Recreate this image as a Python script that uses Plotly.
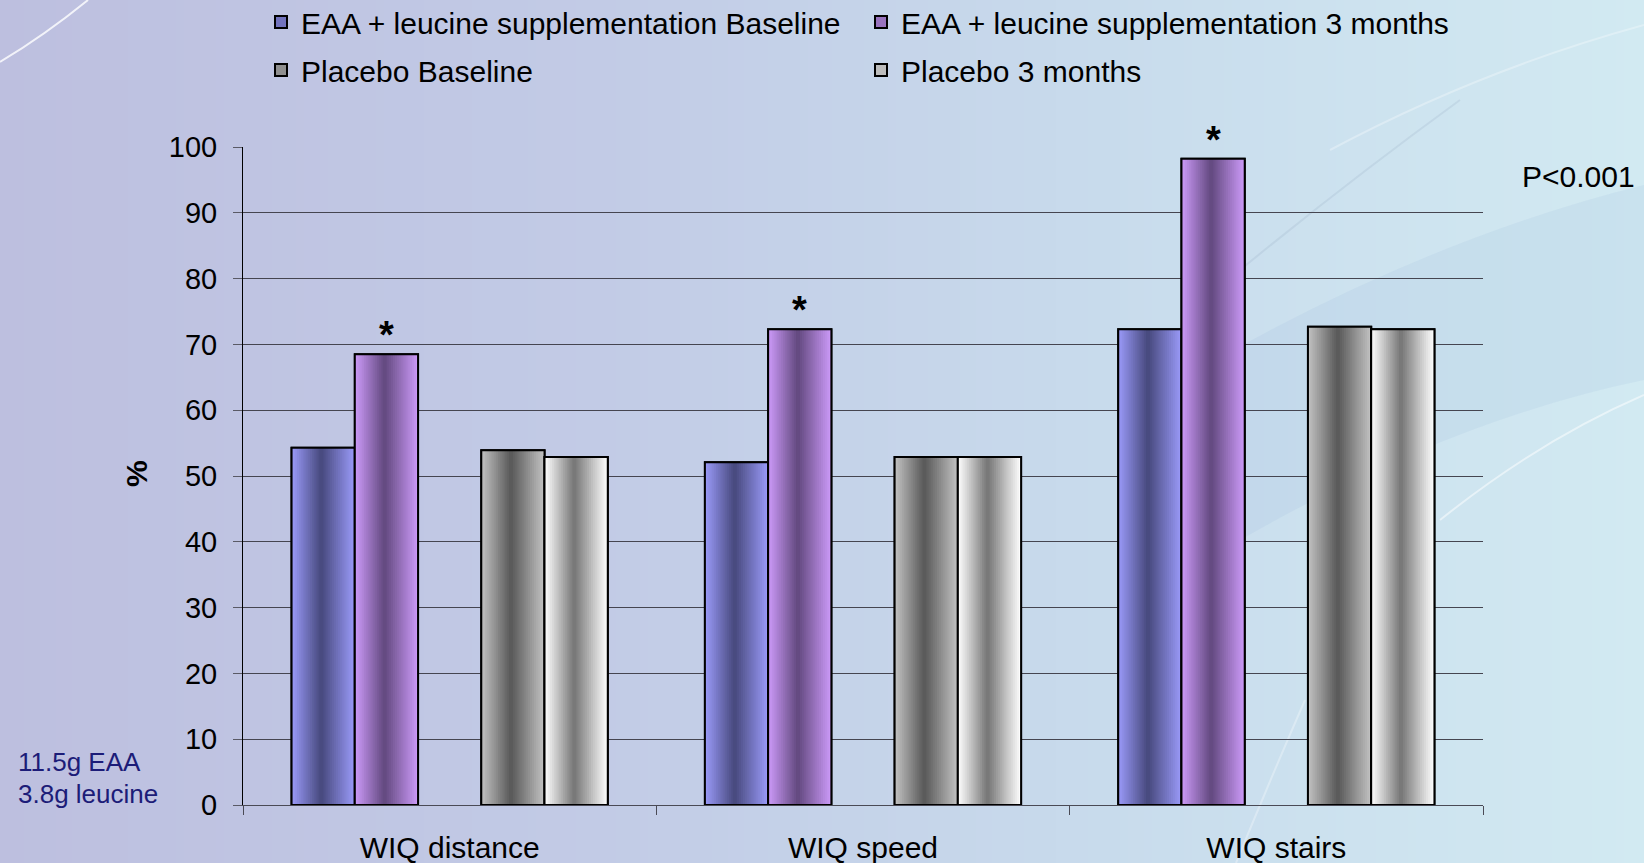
import plotly.graph_objects as go

# ---- data -------------------------------------------------------------
categories = ["WIQ distance", "WIQ speed", "WIQ stairs"]
eaa_baseline = [54.3, 52.1, 72.3]
eaa_3months = [68.5, 72.3, 98.2]
placebo_baseline = [53.9, 52.9, 72.7]
placebo_3months = [52.9, 52.9, 72.3]
series_names = [
    "EAA + leucine supplementation Baseline",
    "EAA + leucine supplementation 3 months",
    "Placebo Baseline",
    "Placebo 3 months",
]
y_tick_values = list(range(0, 101, 10))
significance_mark = "*"
p_value_text = "P<0.001"
dose_lines = ["11.5g EAA", "3.8g leucine"]
y_title = "%"

# ---- geometry / styling ------------------------------------------------
W, H = 1644, 863
ML, MR, MT, MB = 243, 161, 147, 58
PW, PH = W - ML - MR, H - MT - MB
FONT = "Liberation Sans, Arial, sans-serif"

SLOT = 0.153          # width of one bar slot in category units
CENTER = 0.47         # where the dark band of the cylinder shading sits
LAYERS = 16           # shading steps per bar


def px(x, y):
    """pixel position -> paper coordinates"""
    return (x - ML) / PW, (H - MB - y) / PH


def lerp(c1, c2, t):
    return tuple(round(a + (b - a) * t) for a, b in zip(c1, c2))


def rgb(c):
    return "rgb(%d,%d,%d)" % c


series = [
    # values, slot index, edge colour, centre colour, legend
    (eaa_baseline, 0, (152, 152, 246), (68, 70, 120), "legend"),
    (eaa_3months, 1, (202, 152, 246), (94, 70, 122), "legend"),
    (placebo_baseline, 3, (192, 192, 192), (84, 84, 84), "legend2"),
    (placebo_3months, 4, (252, 252, 252), (112, 112, 112), "legend2"),
]

fig = go.Figure()

for name, (vals, slot, edge, dark, lg) in zip(series_names, series):
    off = (slot - 2.5) * SLOT
    # legend-bearing base bar
    fig.add_bar(
        x=categories, y=vals, width=SLOT, offset=off, name=name, legend=lg,
        marker=dict(color=rgb(lerp(edge, dark, 0.45)),
                    line=dict(color="black", width=2)),
        hoverinfo="skip",
    )
    # horizontal cylinder shading built from nested bars
    for k in range(LAYERS):
        t = k / LAYERS
        fig.add_bar(
            x=categories, y=vals, width=SLOT * (1 - t), offset=off + t * CENTER * SLOT,
            marker=dict(color=rgb(lerp(edge, dark, t)), line=dict(width=0)),
            showlegend=False, hoverinfo="skip",
        )
    # outline on top
    fig.add_bar(
        x=categories, y=vals, width=SLOT, offset=off,
        marker=dict(color="rgba(0,0,0,0)", line=dict(color="black", width=2)),
        showlegend=False, hoverinfo="y",
    )

# ---- background: horizontal lavender -> light blue wash ---------------
stops = [(0, (189, 191, 223)), (600, (194, 203, 230)), (1100, (200, 219, 236)), (1644, (210, 234, 242))]


def bg_color(x):
    for (x0, c0), (x1, c1) in zip(stops, stops[1:]):
        if x0 <= x <= x1:
            return lerp(c0, c1, (x - x0) / (x1 - x0))
    return stops[-1][1]


shapes = []
step = 8
for x in range(0, W, step):
    x0, _ = px(x, 0)
    x1, _ = px(x + step + 1, 0)
    _, y0 = px(0, H + 2)
    _, y1 = px(0, -2)
    shapes.append(dict(type="rect", xref="paper", yref="paper", x0=x0, x1=x1, y0=y0, y1=y1,
                       fillcolor=rgb(bg_color(x + step / 2)), line=dict(width=0), layer="below"))


def qpath(p0, p1, p2):
    a, b, c = px(*p0), px(*p1), px(*p2)
    return "M %f,%f Q %f,%f %f,%f" % (a + b + c)


# decorative swooshes
shapes.append(dict(type="path", xref="paper", yref="paper", layer="below",
                   path=qpath((0, 62), (45, 35), (88, 0)),
                   line=dict(color="rgba(255,255,255,0.8)", width=2)))
shapes.append(dict(type="path", xref="paper", yref="paper", layer="below",
                   path=qpath((1330, 150), (1480, 70), (1644, 25)),
                   line=dict(color="rgba(255,255,255,0.3)", width=2)))
a0, a1, a2 = px(1180, 380), px(1420, 240), px(1644, 185)
b0, b1, b2 = px(1644, 380), px(1450, 420), px(1240, 540)
shapes.append(dict(type="path", xref="paper", yref="paper", layer="below",
                   path="M %f,%f Q %f,%f %f,%f L %f,%f Q %f,%f %f,%f Q %f,%f %f,%f Z"
                   % (a0 + a1 + a2 + b0 + b1 + b2 + px(1190, 470) + a0),
                   fillcolor="rgba(140,175,210,0.12)", line=dict(width=0)))
shapes.append(dict(type="path", xref="paper", yref="paper", layer="below",
                   path=qpath((1440, 520), (1540, 440), (1644, 395)),
                   line=dict(color="rgba(255,255,255,0.5)", width=2)))
shapes.append(dict(type="path", xref="paper", yref="paper", layer="below",
                   path=qpath((1460, 100), (1350, 180), (1240, 270)),
                   line=dict(color="rgba(120,140,170,0.14)", width=2)))
shapes.append(dict(type="path", xref="paper", yref="paper", layer="below",
                   path=qpath((1305, 700), (1270, 780), (1236, 863)),
                   line=dict(color="rgba(255,255,255,0.3)", width=2)))

# ---- annotations -----------------------------------------------------
ann = []
for i, v in enumerate(eaa_3months):
    ann.append(dict(x=i + (1 - 2.0) * SLOT, y=v, xref="x", yref="y", text="<b>%s</b>" % significance_mark,
                    showarrow=False, yanchor="bottom", xanchor="center", yshift=-4,
                    font=dict(family=FONT, size=38, color="black")))
xp, yp = px(1520, 176)
ann.append(dict(x=xp, y=yp, xref="paper", yref="paper", text=p_value_text, showarrow=False,
                xanchor="left", yanchor="middle", font=dict(family=FONT, size=30, color="black")))
for line, ypix in zip(dose_lines, [762, 794]):
    xp, yp = px(16, ypix)
    ann.append(dict(x=xp, y=yp, xref="paper", yref="paper", text=line, showarrow=False,
                    xanchor="left", yanchor="middle", font=dict(family=FONT, size=26, color="#1c1c78")))
xp, yp = px(136, 474)
ann.append(dict(x=xp, y=yp, xref="paper", yref="paper", text="<b>%s</b>" % y_title, showarrow=False,
                textangle=-90, xanchor="center", yanchor="middle",
                font=dict(family=FONT, size=30, color="black")))

lx, _ = px(261, 0)
_, ly1 = px(0, -4)
_, ly2 = px(0, 44)
legend_style = dict(orientation="h", x=lx, xanchor="left", yanchor="top", entrywidth=555,
                    entrywidthmode="pixels", bgcolor="rgba(0,0,0,0)", traceorder="normal",
                    font=dict(family=FONT, size=30, color="black"))

fig.update_layout(
    width=W, height=H,
    margin=dict(l=ML, r=MR, t=MT, b=MB, autoexpand=False),
    paper_bgcolor=rgb(stops[0][1]),
    plot_bgcolor="rgba(0,0,0,0)",
    barmode="overlay",
    font=dict(family=FONT, size=29, color="black"),
    showlegend=True,
    legend=dict(legend_style, y=ly1),
    legend2=dict(legend_style, y=ly2),
    shapes=shapes,
    annotations=ann,
    xaxis=dict(
        type="category", range=[-0.5, 2.5], showgrid=False, zeroline=False,
        showline=True, linecolor="#4a4a55", linewidth=1, automargin=False,
        ticks="outside", tickson="boundaries", ticklen=9, tickcolor="#4a4a55",
        tickfont=dict(family=FONT, size=30, color="black"), ticklabelstandoff=16,
    ),
    yaxis=dict(
        range=[0, 100], tickvals=y_tick_values, showgrid=True, gridcolor="#454550", gridwidth=1,
        zeroline=False, showline=True, linecolor="black", linewidth=1, automargin=False,
        ticks="outside", ticklen=9, tickcolor="#5a5a66",
        tickfont=dict(family=FONT, size=29, color="black"), ticklabelstandoff=10,
    ),
)

fig.write_html("out.html")
